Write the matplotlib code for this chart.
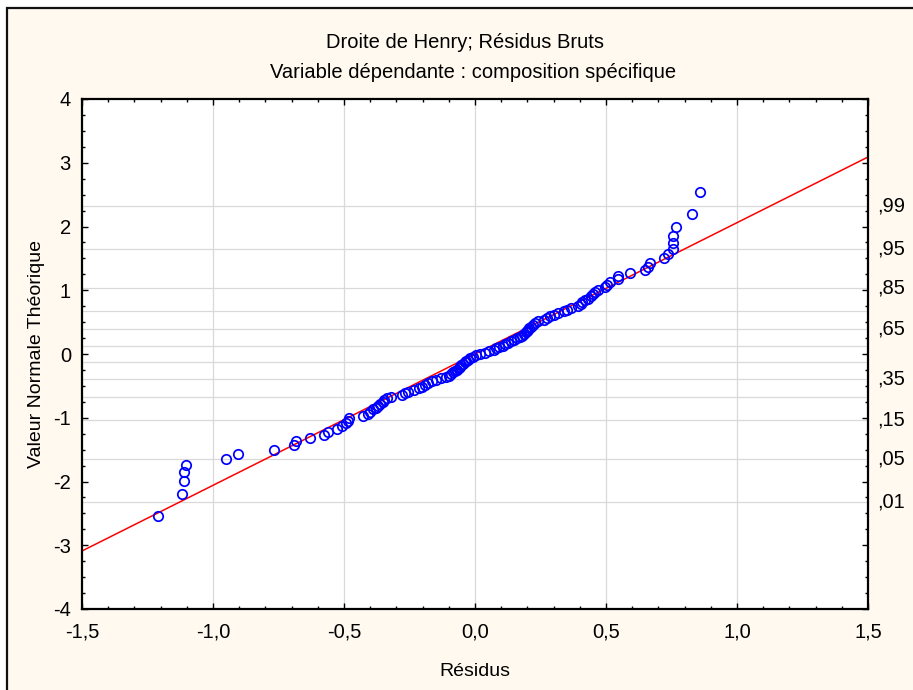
import matplotlib
matplotlib.use("Agg")
import matplotlib.pyplot as plt
from matplotlib.patches import Rectangle
from matplotlib.ticker import MultipleLocator

plt.rcParams["font.family"] = ["Liberation Sans", "DejaVu Sans"]

# raw residuals (x) and their expected normal values (y), sorted
residus = [
    -1.211, -1.118, -1.112, -1.110, -1.103, -0.952, -0.905, -0.768, -0.691, -0.683,
    -0.630, -0.577, -0.561, -0.528, -0.509, -0.492, -0.486, -0.481, -0.426, -0.410,
    -0.401, -0.390, -0.378, -0.370, -0.362, -0.352, -0.346, -0.336, -0.322, -0.280,
    -0.268, -0.256, -0.232, -0.214, -0.203, -0.192, -0.180, -0.165, -0.150, -0.130,
    -0.112, -0.098, -0.090, -0.083, -0.076, -0.068, -0.062, -0.057, -0.052, -0.047,
    -0.040, -0.034, -0.028, -0.018, -0.008, 0.004, 0.018, 0.040, 0.055, 0.072,
    0.082, 0.092, 0.105, 0.115, 0.126, 0.138, 0.148, 0.162, 0.172, 0.178,
    0.188, 0.195, 0.198, 0.203, 0.207, 0.212, 0.220, 0.228, 0.240, 0.262,
    0.275, 0.288, 0.300, 0.318, 0.338, 0.350, 0.365, 0.392, 0.405, 0.410,
    0.418, 0.432, 0.442, 0.452, 0.458, 0.470, 0.496, 0.505, 0.515, 0.545,
    0.546, 0.592, 0.649, 0.660, 0.668, 0.721, 0.737, 0.756, 0.756, 0.756,
    0.767, 0.828, 0.859,
]
valeur_normale = [
    -2.54, -2.19, -1.99, -1.85, -1.74, -1.65, -1.57, -1.50, -1.43, -1.37,
    -1.32, -1.27, -1.22, -1.17, -1.13, -1.09, -1.05, -1.01, -0.98, -0.94,
    -0.91, -0.87, -0.84, -0.81, -0.78, -0.75, -0.72, -0.69, -0.67, -0.64,
    -0.61, -0.59, -0.56, -0.53, -0.51, -0.48, -0.46, -0.43, -0.41, -0.38,
    -0.36, -0.34, -0.31, -0.29, -0.27, -0.25, -0.22, -0.20, -0.18, -0.16,
    -0.13, -0.11, -0.09, -0.07, -0.04, -0.02, 0.00, 0.02, 0.04, 0.07,
    0.09, 0.11, 0.13, 0.16, 0.18, 0.20, 0.22, 0.25, 0.27, 0.29,
    0.31, 0.34, 0.36, 0.38, 0.41, 0.43, 0.46, 0.48, 0.51, 0.53,
    0.56, 0.59, 0.61, 0.64, 0.67, 0.69, 0.72, 0.75, 0.78, 0.81,
    0.84, 0.87, 0.91, 0.94, 0.98, 1.01, 1.05, 1.09, 1.13, 1.17,
    1.22, 1.27, 1.32, 1.37, 1.43, 1.50, 1.57, 1.65, 1.74, 1.85,
    1.99, 2.19, 2.54,
]

# fitted line end points
droite_x = [-1.5, 1.5]
droite_y = [-3.09, 3.09]

# probability grid (z values) and the right-hand labels
proba_z = [-2.326, -1.645, -1.036, -0.674, -0.385, -0.126,
           0.126, 0.385, 0.674, 1.036, 1.645, 2.326]
proba_lab_z = [-2.326, -1.645, -1.036, -0.385, 0.385, 1.036, 1.645, 2.326]
proba_lab = [",01", ",05", ",15", ",35", ",65", ",85", ",95", ",99"]

x_ticks = [-1.5, -1.0, -0.5, 0.0, 0.5, 1.0, 1.5]
y_ticks = [-4, -3, -2, -1, 0, 1, 2, 3, 4]

FS = 14
W, H = 913, 690
fig = plt.figure(figsize=(W / 100, H / 100), dpi=100, facecolor="white")
fig.patches.append(Rectangle((7 / W, -0.02), 1.05, 1 - 8 / H + 0.02,
                             transform=fig.transFigure, facecolor="#FFF9EF",
                             edgecolor="#111111", linewidth=1.6, zorder=-10))

ax = fig.add_axes([82 / W, (H - 609) / H, (868 - 82) / W, (609 - 99) / H])
ax.set_zorder(2)
ax.set_facecolor("white")

for z in proba_z:
    ax.axhline(z, color="#D9D9D9", lw=0.9, zorder=1)
for xv in x_ticks[1:-1]:
    ax.axvline(xv, color="#D9D9D9", lw=0.9, zorder=1)

ax.plot(droite_x, droite_y, color="#FF0000", lw=1.1, zorder=2)
ax.plot(residus, valeur_normale, ls="none", marker="o", ms=6.8,
        mfc="none", mec="#0000FF", mew=1.25, zorder=3)

ax.set_xlim(-1.5, 1.5)
ax.set_ylim(-4, 4)
ax.set_xticks(x_ticks)
ax.set_xticklabels([f"{v:.1f}".replace(".", ",") for v in x_ticks])
ax.set_yticks(y_ticks)
ax.set_yticklabels([str(v) for v in y_ticks])
ax.xaxis.set_minor_locator(MultipleLocator(0.1))
ax.yaxis.set_minor_locator(MultipleLocator(0.25))
ax.tick_params(which="both", direction="in", top=True, right=True,
               width=1.0, labelsize=14.5, colors="black")
ax.tick_params(axis="x", which="major", length=4.5, pad=10)
ax.tick_params(axis="y", which="major", length=4.5, pad=8)
ax.tick_params(which="minor", length=2.5)
for s in ax.spines.values():
    s.set_linewidth(1.6)

for z, lab in zip(proba_lab_z, proba_lab):
    ax.text(1.012, z, lab, transform=ax.get_yaxis_transform(),
            ha="left", va="center", fontsize=14.5)

ax.set_xlabel("Résidus", fontsize=FS, labelpad=15)
ax.set_ylabel("Valeur Normale Théorique", fontsize=FS, labelpad=6)

fig.text(465 / W, 1 - 42 / H, "Droite de Henry; Résidus Bruts",
         ha="center", va="center", fontsize=14.5)
fig.text(473 / W, 1 - 73 / H, "Variable dépendante : composition spécifique",
         ha="center", va="center", fontsize=14.5)

fig.savefig("out.png", dpi=100, facecolor=fig.get_facecolor())
